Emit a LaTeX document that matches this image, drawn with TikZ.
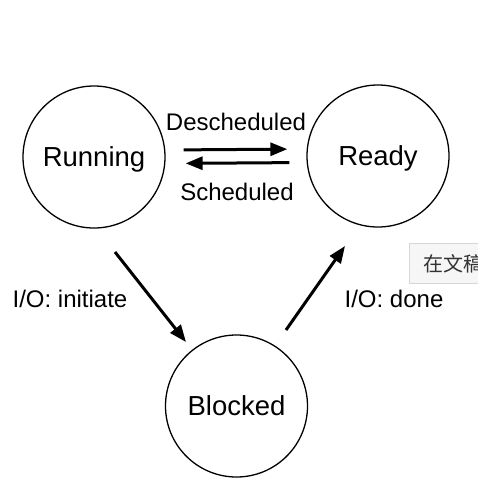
\documentclass[tikz,border=0pt]{standalone}
\usepackage{fontspec}
\setmainfont{Liberation Sans}
\newfontfamily\cjkfont{Noto Sans CJK SC}
\usetikzlibrary{arrows.meta,calc}
\definecolor{tipfill}{HTML}{F6F6F6}
\definecolor{tipline}{HTML}{D6D6D6}
\definecolor{tiptext}{HTML}{333333}
\tikzset{
  state/.style={draw, circle, line width=1.3pt, minimum size=142pt, inner sep=0pt,
    font=\fontsize{27.5}{30}\selectfont, text height=19.7pt, text depth=0pt},
  arr/.style={line width=3pt, -{Triangle[length=17pt,width=13pt]}},
  lbl/.style={font=\fontsize{24}{27}\selectfont, inner sep=0pt, text height=17.2pt, text depth=0pt},
}
\begin{document}
\begin{tikzpicture}[x=1pt,y=1pt]
\useasboundingbox (0,0) rectangle (478,-488);
\clip (0,0) rectangle (478,-488);
\node[state] (run) at (94,-157) {Running};
\node[state] (rdy) at (378,-156) {Ready};
\node[state] (blk) at (236.5,-406) {Blocked};
\draw[arr, shorten <=18pt, shorten >=19pt] ([yshift=7pt]run.east) -- ([yshift=7pt]rdy.west);
\draw[arr, shorten <=17pt, shorten >=20pt] ([yshift=-6.5pt]rdy.west) -- ([yshift=-6.5pt]run.east);
\draw[arr] ($(run.center)+(21,-95)$) -- ($(blk.center)+(-50.5,64)$);
\draw[arr] ($(blk.center)+(49.5,76)$) -- ($(rdy.center)+(-33,-90)$);
\node[lbl] (ldes) at (236,-122) {Descheduled};
\node[lbl] (lsch) at (237,-192) {Scheduled};
\node[lbl] (lini) at (70,-299) {I/O: initiate};
\node[lbl] (ldon) at (394,-299) {I/O: done};
\node[draw=tipline, fill=tipfill, line width=0.8pt, minimum height=40pt, minimum width=90pt,
  anchor=north west, inner sep=0pt] (tip) at (409,-243) {};
\node[anchor=west, inner sep=0pt, text=tiptext, font=\cjkfont\fontsize{20}{22}\selectfont]
  (tiptx) at ([xshift=14pt]tip.west) {在文稿};
\end{tikzpicture}
\end{document}
